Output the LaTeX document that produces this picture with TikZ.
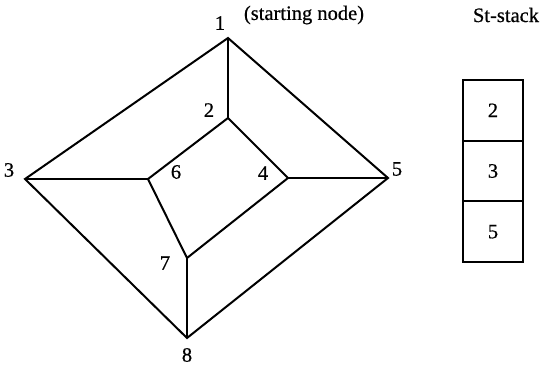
\documentclass[tikz,border=0pt]{standalone}
\usepackage{fontspec}
\setmainfont{Liberation Serif}
\newfontfamily\labelfont[FakeBold=0.6]{Liberation Serif}
\usetikzlibrary{positioning}

\begin{document}
\begin{tikzpicture}[x=1pt,y=-1pt,
  edge/.style={line width=2pt,line join=miter},
  num/.style={font=\labelfont\fontsize{20.5}{24}\selectfont,inner sep=0pt},
  cell/.style={draw,line width=2pt,minimum width=60pt,minimum height=60.7pt,inner sep=0pt,font=\labelfont\fontsize{20.5}{24}\selectfont}]
  \useasboundingbox (0,0) rectangle (544,368);
  % Graph vertices
  \coordinate (v1) at (228,38);
  \coordinate (v2) at (228,118);
  \coordinate (v3) at (25,179);
  \coordinate (v4) at (288,178);
  \coordinate (v5) at (388,178);
  \coordinate (v6) at (148,179);
  \coordinate (v7) at (187,258);
  \coordinate (v8) at (187,338);
  % Vertex labels
  \node[num] (l1) at (220,23) {1};
  \node[num] (l2) at (209,110) {2};
  \node[num] (l3) at (9,170) {3};
  \node[num] (l4) at (263,173) {4};
  \node[num] (l5) at (397,169) {5};
  \node[num] (l6) at (176,172) {6};
  \node[num] (l7) at (165,263) {7};
  \node[num] (l8) at (187,355) {8};
  \node[num] (start) at (304,15) {(starting node)};
  % Edges
  \draw[edge] (v3) -- (v1) -- (v5) -- (v8) -- cycle;
  \draw[edge] (v1) -- (v2);
  \draw[edge] (v2) -- (v4) -- (v7) -- (v6) -- cycle;
  \draw[edge] (v3) -- (v6);
  \draw[edge] (v4) -- (v5);
  \draw[edge] (v7) -- (v8);
  % Stack
  \node[num] (title) at (506,15) {St-stack};
  \node[cell] (s2) at (493,110.3) {2};
  \node[cell,below=-2pt of s2] (s3) {3};
  \node[cell,below=-2pt of s3] (s5) {5};
\end{tikzpicture}
\end{document}
